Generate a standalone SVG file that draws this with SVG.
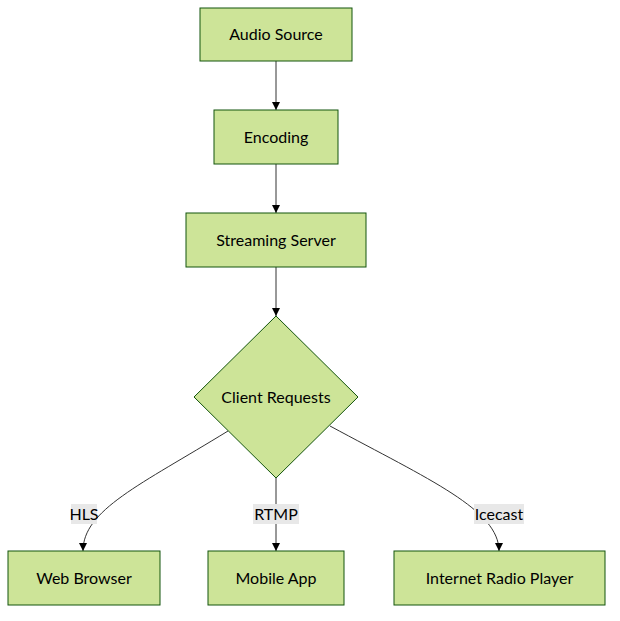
<svg xmlns="http://www.w3.org/2000/svg" width="620" height="621" viewBox="0 0 620 621">
<defs>
<marker id="arrow" viewBox="0 0 10 10" refX="10" refY="5" markerWidth="8" markerHeight="8" markerUnits="userSpaceOnUse" orient="auto">
<path d="M0,0 L10,5 L0,10 z" fill="#000"/>
</marker>
<style>
.node rect, .node polygon { fill: #cde498; stroke: #13540c; stroke-width: 1; }
.node text { font-family: "Lato", "Liberation Sans", sans-serif; font-size: 16px; fill: #000; text-anchor: middle; dominant-baseline: central; }
.edge { fill: none; stroke: #333; stroke-width: 1; marker-end: url(#arrow); }
.lbl rect { fill: #e8e8e8; }
.lbl text { font-family: "Lato", "Liberation Sans", sans-serif; font-size: 16px; fill: #000; text-anchor: middle; dominant-baseline: central; }
</style>
</defs>
<rect width="620" height="621" fill="#fff"/>
<g id="connectors">
<path class="edge" d="M276,61 L276,110"/>
<path class="edge" d="M276,164 L276,213"/>
<path class="edge" d="M276,267 L276,316"/>
<path class="edge" d="M228,431 C140,485 83,510 83,551"/>
<path class="edge" d="M276,478 L276,551"/>
<path class="edge" d="M330,426 C430,480 499,510 499,551"/>
<g class="lbl"><rect x="71" y="504" width="26" height="20"/><text x="84" y="513">HLS</text></g>
<g class="lbl"><rect x="253" y="504" width="46" height="20"/><text x="276" y="513">RTMP</text></g>
<g class="lbl"><rect x="474" y="504" width="50" height="20"/><text x="499" y="513">Icecast</text></g>
</g>
<g id="audio-source" class="node"><rect x="200" y="8" width="152" height="53"/><text x="276" y="33.5">Audio Source</text></g>
<g id="encoding" class="node"><rect x="214" y="110" width="124" height="54"/><text x="276" y="136">Encoding</text></g>
<g id="streaming-server" class="node"><rect x="186" y="213" width="180" height="54"/><text x="276" y="239">Streaming Server</text></g>
<g id="client-requests" class="node"><polygon points="276,316 358,397 276,478 194,397"/><text x="276" y="396">Client Requests</text></g>
<g id="web-browser" class="node"><rect x="8" y="551" width="152" height="54"/><text x="84" y="577">Web Browser</text></g>
<g id="mobile-app" class="node"><rect x="208" y="551" width="136" height="54"/><text x="276" y="577">Mobile App</text></g>
<g id="internet-radio-player" class="node"><rect x="394" y="551" width="211" height="54"/><text x="499.5" y="577">Internet Radio Player</text></g>
</svg>
